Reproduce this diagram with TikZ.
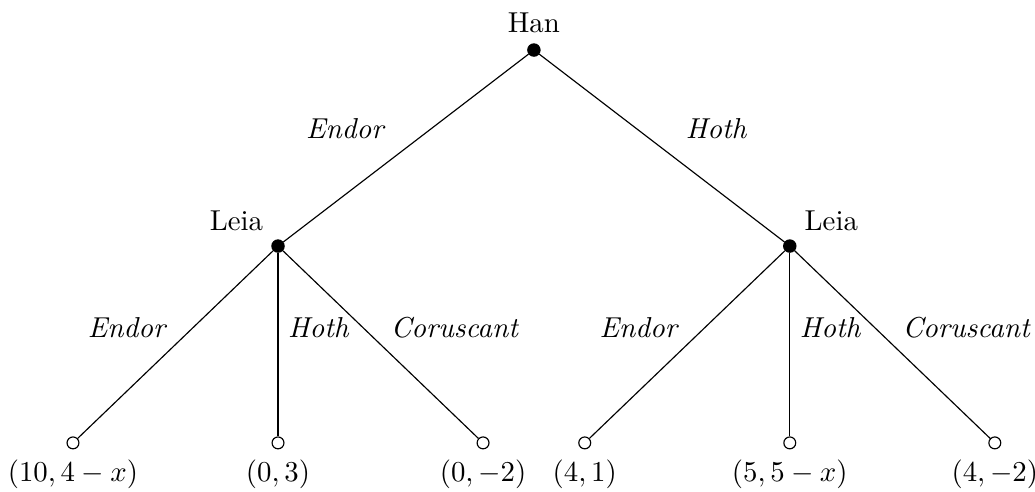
\documentclass[tikz,border=0pt]{standalone}
\usepackage{amsmath,amssymb}
\usepackage{tikz}
\usetikzlibrary{positioning}

\begin{document}
\begin{tikzpicture}[
    choice/.style={circle, fill=black, draw=black, inner sep=0pt, minimum size=1.5mm},
    payoff/.style={circle, fill=white, draw=black, inner sep=0pt, minimum size=1.45mm},
    move/.style={midway, font=\itshape}
]
\useasboundingbox (-6.51,-5.38) rectangle (6.11,0.61);
% players
\node[choice] (han) at (0,0) {};
\node[choice] (leiaL) at (-3.12,-2.39) {};
\node[choice] (leiaR) at (3.12,-2.39) {};
\node[above=0pt of han] (hanname) {Han};
\node[above left=0pt of leiaL] (leiaLname) {Leia};
\node[above right=0pt of leiaR] (leiaRname) {Leia};
% outcomes
\node[payoff] (o1) at (-5.62,-4.79) {};
\node[payoff] (o2) at (-3.12,-4.79) {};
\node[payoff] (o3) at (-0.62,-4.79) {};
\node[payoff] (o4) at (0.62,-4.79) {};
\node[payoff] (o5) at (3.12,-4.79) {};
\node[payoff] (o6) at (5.62,-4.79) {};
\node[below=0pt of o1] (p1) {$(10,4-x)$};
\node[below=0pt of o2] (p2) {$(0,3)$};
\node[below=0pt of o3] (p3) {$(0,-2)$};
\node[below=0pt of o4] (p4) {$(4,1)$};
\node[below=0pt of o5] (p5) {$(5,5-x)$};
\node[below=0pt of o6] (p6) {$(4,-2)$};
% moves
\draw (han) -- node[move, anchor=east, xshift=-0.15cm, yshift=0.24cm] {Endor} (leiaL);
\draw (han) -- node[move, anchor=west, xshift=0.17cm, yshift=0.24cm] {Hoth} (leiaR);
\draw (leiaL) -- node[move, anchor=east, yshift=0.21cm] {Endor} (o1);
\draw (leiaL) -- node[move, anchor=west, yshift=0.21cm] {Hoth} (o2);
\draw (leiaL) -- node[move, anchor=west, yshift=0.21cm] {Coruscant} (o3);
\draw (leiaR) -- node[move, anchor=east, yshift=0.21cm] {Endor} (o4);
\draw (leiaR) -- node[move, anchor=west, yshift=0.21cm] {Hoth} (o5);
\draw (leiaR) -- node[move, anchor=west, yshift=0.21cm] {Coruscant} (o6);
\end{tikzpicture}
\end{document}
